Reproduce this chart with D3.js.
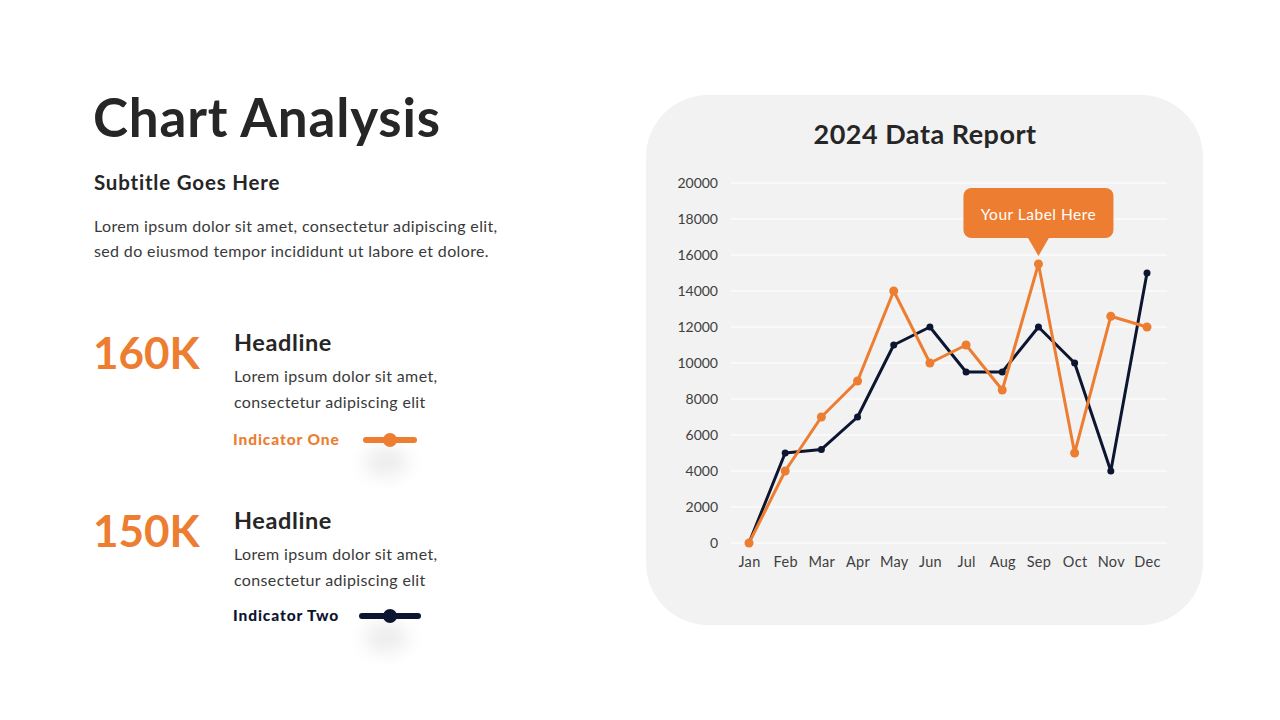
<!DOCTYPE html>
<html><head><meta charset="utf-8">
<script src="https://cdn.jsdelivr.net/npm/d3@7"></script>
<style>html,body{margin:0;padding:0;background:#fff;}svg{display:block;font-family:Lato,"Open Sans",sans-serif;}</style>
</head><body>
<svg id="c" width="1280" height="720"></svg>
<script>
const months = ["Jan","Feb","Mar","Apr","May","Jun","Jul","Aug","Sep","Oct","Nov","Dec"];
const seriesDark = [0,5000,5200,7000,11000,12000,9500,9500,12000,10000,4000,15000];
const seriesOrange = [0,4000,7000,9000,14000,10000,11000,8500,15500,5000,12600,12000];
const yTicks = [0,2000,4000,6000,8000,10000,12000,14000,16000,18000,20000];
const calloutMonth = "Sep";
const calloutText = "Your Label Here";
const stats = [
  {value:"160K", head:"Headline", lines:["Lorem ipsum dolor sit amet,","consectetur adipiscing elit"], ind:"Indicator One", color:"#ED7D31"},
  {value:"150K", head:"Headline", lines:["Lorem ipsum dolor sit amet,","consectetur adipiscing elit"], ind:"Indicator Two", color:"#0D1630"}
];

const ORANGE="#ED7D31", DARK="#0D1630", TEXT="#262626";
const svg=d3.select("#c");
const defs=svg.append("defs");
defs.append("filter").attr("id","blur").attr("x","-100%").attr("y","-100%").attr("width","300%").attr("height","300%")
  .append("feGaussianBlur").attr("stdDeviation",9);

// Left text
svg.append("text").attr("x",93).attr("y",137).attr("font-size",53).attr("font-weight",700).attr("letter-spacing",0.8).attr("fill",TEXT).text("Chart Analysis");
svg.append("text").attr("x",94).attr("y",190).attr("font-size",20.5).attr("font-weight",700).attr("letter-spacing",0.8).attr("fill",TEXT).text("Subtitle Goes Here");
svg.append("text").attr("x",94).attr("y",232).attr("font-size",16).attr("letter-spacing",0.36).attr("fill","#3a3a3a").text("Lorem ipsum dolor sit amet, consectetur adipiscing elit,");
svg.append("text").attr("x",94).attr("y",257).attr("font-size",16).attr("letter-spacing",0.36).attr("fill","#3a3a3a").text("sed do eiusmod tempor incididunt ut labore et dolore.");

stats.forEach((s,i)=>{
  const g=svg.append("g").attr("transform",`translate(0,${i*178})`);
  g.append("text").attr("x",93).attr("y",369).attr("font-size",44).attr("font-weight",700).attr("fill",ORANGE).text(s.value);
  g.append("text").attr("x",234).attr("y",351).attr("font-size",23.5).attr("font-weight",700).attr("letter-spacing",0.6).attr("fill",TEXT).text(s.head);
  s.lines.forEach((l,j)=>g.append("text").attr("x",234).attr("y",382+j*26).attr("font-size",16).attr("letter-spacing",0.36).attr("fill","#3a3a3a").text(l));
  const iy = i===0?440:438;
  g.append("text").attr("x",233).attr("y",iy+5).attr("font-size",15.5).attr("font-weight",900).attr("letter-spacing",0.9).attr("fill",s.color).text(s.ind);
  g.append("ellipse").attr("cx",386).attr("cy",iy+22).attr("rx",22).attr("ry",15).attr("fill","#ececec").attr("filter","url(#blur)");
  const x0=i===0?366:362, x1=i===0?414:418;
  g.append("line").attr("x1",x0).attr("x2",x1).attr("y1",iy).attr("y2",iy).attr("stroke",s.color).attr("stroke-width",6).attr("stroke-linecap","round");
  g.append("circle").attr("cx",390).attr("cy",iy).attr("r",7).attr("fill",s.color);
});

// Card
svg.append("rect").attr("x",646).attr("y",95).attr("width",557).attr("height",530).attr("rx",62).attr("fill","#F2F2F2");
svg.append("text").attr("x",925).attr("y",144).attr("text-anchor","middle").attr("font-size",27).attr("font-weight",700).attr("letter-spacing",0.5).attr("fill",TEXT).text("2024 Data Report");

const x=d3.scalePoint().domain(months).range([749,1147]);
const y=d3.scaleLinear().domain([0,20000]).range([543,183]);

const grid=svg.append("g");
grid.selectAll("line").data(yTicks).join("line").attr("x1",731).attr("x2",1167)
  .attr("y1",d=>y(d)).attr("y2",d=>y(d)).attr("stroke","#ffffff").attr("stroke-width",1.2);

const yAxis=svg.append("g").attr("transform","translate(722,0)")
  .call(d3.axisLeft(y).tickValues(yTicks).tickSize(0).tickPadding(4).tickFormat(d3.format("d")));
yAxis.select(".domain").remove();
yAxis.selectAll("text").attr("font-size",14).attr("fill","#404040").attr("font-family","Lato,sans-serif");

const xAxis=svg.append("g").attr("transform","translate(0,551)")
  .call(d3.axisBottom(x).tickSize(0).tickPadding(6));
xAxis.select(".domain").remove();
xAxis.selectAll("text").attr("font-size",14.5).attr("letter-spacing",0.3).attr("fill","#404040").attr("font-family","Lato,sans-serif");

const line=d3.line().x((d,i)=>x(months[i])).y(d=>y(d));
svg.append("path").datum(seriesDark).attr("d",line).attr("fill","none").attr("stroke",DARK).attr("stroke-width",3).attr("stroke-linejoin","round");
svg.append("g").selectAll("circle").data(seriesDark).join("circle").attr("cx",(d,i)=>x(months[i])).attr("cy",d=>y(d)).attr("r",3.5).attr("fill",DARK);
svg.append("path").datum(seriesOrange).attr("d",line).attr("fill","none").attr("stroke",ORANGE).attr("stroke-width",3).attr("stroke-linejoin","round");
svg.append("g").selectAll("circle").data(seriesOrange).join("circle").attr("cx",(d,i)=>x(months[i])).attr("cy",d=>y(d)).attr("r",4.5).attr("fill",ORANGE);

// Callout
const ci=months.indexOf(calloutMonth);
const cx=x(calloutMonth), cy=y(seriesOrange[ci]);
const cg=svg.append("g");
const bw=150,bh=50,bottom=cy-8-18;
cg.append("rect").attr("x",cx-75).attr("y",bottom-bh).attr("width",bw).attr("height",bh).attr("rx",8).attr("fill",ORANGE);
cg.append("path").attr("d",`M${cx-11},${bottom-1}L${cx+11},${bottom-1}L${cx},${cy-8}Z`).attr("fill",ORANGE);
cg.append("text").attr("x",cx).attr("y",bottom-bh/2+7).attr("text-anchor","middle").attr("font-size",15.5).attr("letter-spacing",0.5).attr("fill","#fff").text(calloutText);
</script>
</body></html>
